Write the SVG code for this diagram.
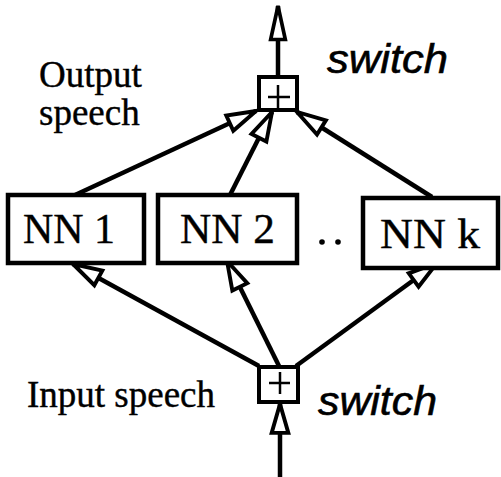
<svg xmlns="http://www.w3.org/2000/svg" width="501" height="477" viewBox="0 0 501 477">
<style>
.box{fill:#fff;stroke:#000;stroke-width:4.5}
.sw{fill:#fff;stroke:#000;stroke-width:4}
.pl{stroke:#000;stroke-width:2.5}
.ln{stroke:#000;stroke-width:4.5;fill:none;marker-end:url(#ah)}
.ser{font-family:"Liberation Serif","Times New Roman",serif;fill:#000;stroke:#000;stroke-width:0.4}
.sans{font-family:"Liberation Sans",Arial,sans-serif;font-style:italic;fill:#000;stroke:#000;stroke-width:0.6}
</style>
<defs>
<marker id="ah" markerUnits="userSpaceOnUse" markerWidth="40" markerHeight="40" viewBox="-32 -12 36 24" refX="0" refY="0" orient="auto">
<path d="M0,0 L-26,-7.5 L-26,7.5 Z" fill="#fff" stroke="#000" stroke-width="3.5"/>
</marker>
<marker id="ahl" markerUnits="userSpaceOnUse" markerWidth="44" markerHeight="30" viewBox="-38 -12 42 24" refX="0" refY="0" orient="auto">
<path d="M0,0 L-32,-7 L-32,7 Z" fill="#fff" stroke="#000" stroke-width="3.5"/>
</marker>
</defs>
<g id="connectors">
<line class="ln" x1="278" y1="77" x2="278" y2="6" style="marker-end:url(#ahl)"/>
<line class="ln" x1="280" y1="477" x2="280" y2="404"/>
<line class="ln" x1="75" y1="195" x2="256" y2="111"/>
<line class="ln" x1="230" y1="195" x2="272" y2="112"/>
<line class="ln" x1="432" y1="197" x2="297" y2="112"/>
<line class="ln" x1="259" y1="366" x2="73" y2="264"/>
<line class="ln" x1="279" y1="366" x2="227" y2="261"/>
<line class="ln" x1="296" y1="366" x2="437" y2="263"/>
</g>
<g id="switch-out">
<rect class="sw" x="259" y="77" width="38" height="33"/>
<line class="pl" x1="268" y1="97" x2="290" y2="97"/>
<line class="pl" x1="278" y1="85" x2="278" y2="109"/>
<text class="sans" x="327" y="73" font-size="40" textLength="121" lengthAdjust="spacingAndGlyphs">switch</text>
</g>
<g id="switch-in">
<rect class="sw" x="259" y="367" width="39" height="35"/>
<line class="pl" x1="269" y1="383" x2="290" y2="383"/>
<line class="pl" x1="280" y1="372" x2="280" y2="394"/>
<text class="sans" x="318" y="415" font-size="40" textLength="119" lengthAdjust="spacingAndGlyphs">switch</text>
</g>
<g id="nn1">
<rect class="box" x="8" y="195" width="136" height="68"/>
<text class="ser" x="23" y="243" font-size="42" textLength="92" lengthAdjust="spacingAndGlyphs">NN 1</text>
</g>
<g id="nn2">
<rect class="box" x="158" y="195" width="139" height="68"/>
<text class="ser" x="180" y="243" font-size="42" textLength="95" lengthAdjust="spacingAndGlyphs">NN 2</text>
</g>
<g id="dots">
<circle cx="322" cy="242" r="2.8" fill="#000"/>
<circle cx="338" cy="242" r="2.8" fill="#000"/>
</g>
<g id="nnk">
<rect class="box" x="363" y="198" width="135" height="70"/>
<text class="ser" x="380" y="248" font-size="42" textLength="100" lengthAdjust="spacingAndGlyphs">NN k</text>
</g>
<g id="label-output">
<text class="ser" x="39" y="87" font-size="37">Output</text>
<text class="ser" x="39" y="125" font-size="37">speech</text>
</g>
<g id="label-input">
<text class="ser" x="27" y="407" font-size="37">Input speech</text>
</g>
</svg>
